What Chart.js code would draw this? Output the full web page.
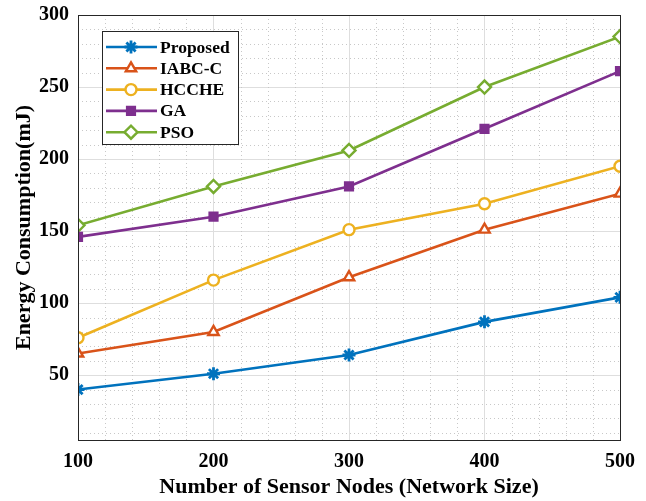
<!DOCTYPE html>
<html><head><meta charset="utf-8">
<script src="https://cdn.jsdelivr.net/npm/chart.js@4.4.0/dist/chart.umd.min.js"></script>
<style>html,body{margin:0;padding:0;background:#fff;}#wrap{width:646px;height:501px;position:relative;}</style>
</head><body><div id="wrap"><canvas id="c" width="646" height="501"></canvas></div>
<script>
const networkSizes = [100, 200, 300, 400, 500];
const proposed = [40, 51, 64, 87, 104];
const iabcc = [65, 80, 118, 151, 176];
const hcche = [76, 116, 151, 169, 195];
const ga = [146, 160, 181, 221, 261];
const pso = [154, 181, 206, 250, 285];
const seriesNames = ['Proposed', 'IABC-C', 'HCCHE', 'GA', 'PSO'];
const xTickLabels = ['100', '200', '300', '400', '500'];
const yTickLabels = ['50', '100', '150', '200', '250', '300'];

const colors = ['#0072BD', '#D95319', '#EDB120', '#7E2F8E', '#77AC30'];
const styles = [
  {pointStyle: 'star', radius: 6.5, bg: '#0072BD', bw: 2.8},
  {pointStyle: 'triangle', radius: 6, bg: '#ffffff', bw: 2.4},
  {pointStyle: 'circle', radius: 5.5, bg: '#ffffff', bw: 2.4},
  {pointStyle: 'rect', radius: 5.5, bg: '#7E2F8E', bw: 2.4},
  {pointStyle: 'rectRot', radius: 6.5, bg: '#ffffff', bw: 2.4}
];
const allSeries = [proposed, iabcc, hcche, ga, pso];
const FONT = '"Liberation Serif", "Times New Roman", serif';

const datasets = allSeries.map((vals, i) => ({
  label: seriesNames[i],
  data: networkSizes.map((x, j) => ({x: x, y: vals[j]})),
  borderColor: colors[i],
  backgroundColor: styles[i].bg,
  pointBorderColor: colors[i],
  pointBackgroundColor: styles[i].bg,
  pointStyle: styles[i].pointStyle,
  pointRadius: styles[i].radius,
  pointBorderWidth: styles[i].bw,
  borderWidth: 2.6,
  tension: 0,
  fill: false
}));

const minorGrid = {
  id: 'minorGrid',
  beforeDatasetsDraw(chart) {
    const {ctx, chartArea: a, scales: {x, y}} = chart;
    ctx.save();
    ctx.strokeStyle = '#c8c8c8';
    ctx.lineWidth = 1;
    ctx.setLineDash([1, 3]);
    for (let v = 10; v < 300; v += 10) {
      if (v % 50 === 0) continue;
      const py = Math.round(y.getPixelForValue(v)) + 0.5;
      if (py < a.top || py > a.bottom) continue;
      ctx.beginPath(); ctx.moveTo(a.left, py); ctx.lineTo(a.right, py); ctx.stroke();
    }
    for (let v = 120; v < 500; v += 20) {
      if (v % 100 === 0) continue;
      const px = Math.round(x.getPixelForValue(v)) + 0.5;
      ctx.beginPath(); ctx.moveTo(px, a.top); ctx.lineTo(px, a.bottom); ctx.stroke();
    }
    ctx.restore();
  }
};

const frameAndLegend = {
  id: 'frameAndLegend',
  afterDatasetsDraw(chart) {
    const {ctx, chartArea: a} = chart;
    ctx.save();
    ctx.strokeStyle = '#262626';
    ctx.lineWidth = 1;
    ctx.setLineDash([]);
    ctx.strokeRect(Math.round(a.left) + 0.5, Math.round(a.top) + 0.5, Math.round(a.right - a.left), Math.round(a.bottom - a.top));
    // legend
    const bx = a.left + 24, by = a.top + 16, bw = 136, bh = 113;
    ctx.fillStyle = '#ffffff';
    ctx.fillRect(bx, by, bw, bh);
    ctx.strokeStyle = '#262626';
    ctx.strokeRect(Math.round(bx) + 0.5, Math.round(by) + 0.5, bw, bh);
    ctx.font = 'bold 17.5px ' + FONT;
    ctx.textBaseline = 'middle';
    ctx.textAlign = 'left';
    chart.data.datasets.forEach((ds, i) => {
      const cy = by + 16 + i * 21.3;
      ctx.strokeStyle = ds.borderColor;
      ctx.lineWidth = 2.6;
      ctx.beginPath(); ctx.moveTo(bx + 4, cy); ctx.lineTo(bx + 55, cy); ctx.stroke();
      ctx.fillStyle = ds.pointBackgroundColor;
      ctx.strokeStyle = ds.pointBorderColor;
      ctx.lineWidth = ds.pointBorderWidth;
      Chart.helpers.drawPoint(ctx, {pointStyle: ds.pointStyle, radius: ds.pointRadius, borderWidth: ds.pointBorderWidth, rotation: 0}, bx + 29, cy);
      ctx.fillStyle = '#000000';
      ctx.fillText(ds.label, bx + 58, cy + 1);
    });
    ctx.restore();
  }
};

new Chart(document.getElementById('c'), {
  type: 'line',
  data: {datasets: datasets},
  plugins: [minorGrid, frameAndLegend],
  options: {
    responsive: false,
    animation: false,
    layout: {padding: {left: 0, top: 15, right: 26, bottom: 0}},
    plugins: {legend: {display: false}, tooltip: {enabled: false}},
    scales: {
      x: {
        type: 'linear', min: 100, max: 500,
        afterFit(s) { s.height = 61; s.paddingLeft = 0; s.paddingRight = 0; },
        afterBuildTicks(s) { s.ticks = networkSizes.map(v => ({value: v})); },
        ticks: {
          callback: (v) => { const k = networkSizes.indexOf(v); return k >= 0 ? xTickLabels[k] : ''; },
          color: '#000', font: {family: FONT, size: 20, weight: 'bold'}, padding: 10, maxRotation: 0
        },
        grid: {color: '#dedede', drawTicks: false, lineWidth: 1},
        border: {color: '#262626', width: 1},
        title: {display: true, text: 'Number of Sensor Nodes (Network Size)', color: '#000',
          font: {family: FONT, size: 22, weight: 'bold'}, padding: {top: 0, bottom: 0}}
      },
      y: {
        type: 'linear', min: 5, max: 300,
        afterFit(s) { s.width = 78; s.paddingTop = 0; s.paddingBottom = 0; },
        afterBuildTicks(s) { s.ticks = yTickLabels.map(t => ({value: Number(t)})); },
        ticks: {
          callback: (v) => { const k = yTickLabels.indexOf(String(v)); return k >= 0 ? yTickLabels[k] : ''; },
          color: '#000', font: {family: FONT, size: 20, weight: 'bold'}, padding: 9
        },
        grid: {color: '#dedede', drawTicks: false, lineWidth: 1},
        border: {color: '#262626', width: 1},
        title: {display: true, text: 'Energy Consumption(mJ)', color: '#000',
          font: {family: FONT, size: 22, weight: 'bold'}, padding: {top: 11, bottom: 0}}
      }
    }
  }
});
</script></body></html>
